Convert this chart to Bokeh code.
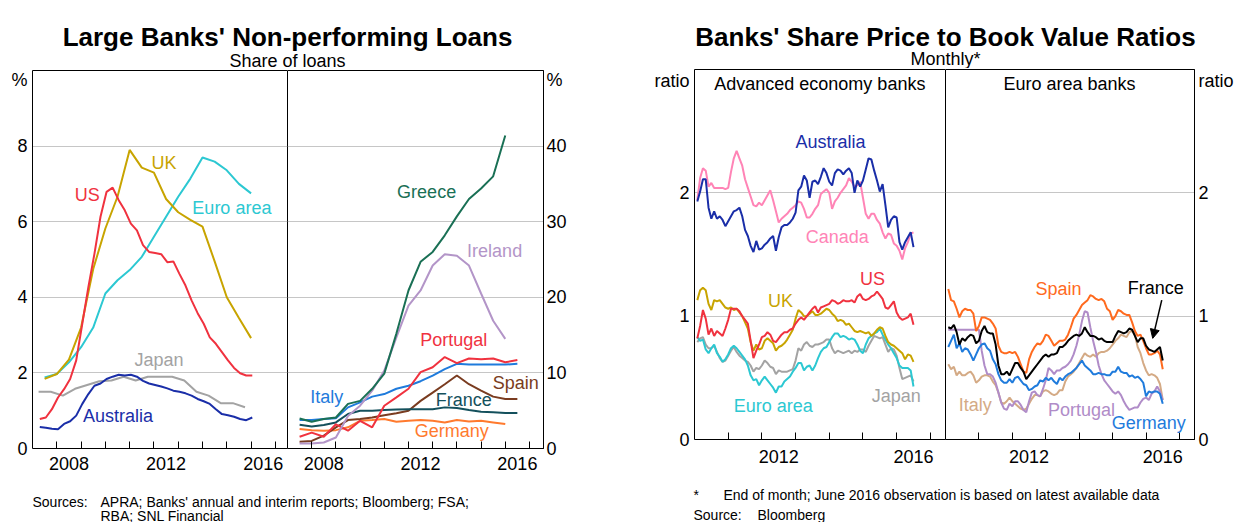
import numpy as np
from bokeh.plotting import figure
from bokeh.layouts import column, row
from bokeh.models import (Range1d, FixedTicker, Label, Arrow, NormalHead, CustomJSTickFormatter,
                          LinearAxis)
from bokeh.embed import file_html
from bokeh.resources import INLINE

FONT = "Liberation Sans"
FS = "18px"

# ---------------- Left chart: Large banks' non-performing loans (% of loans) ----------------
q_years = [round(2007.3 + 0.25 * k, 2) for k in range(36)]      # quarterly
h_years = [2007.5 + 0.5 * k for k in range(18)]                   # half-yearly
jp_years = [2007.25 + 0.5 * k for k in range(18)]                 # Japan fiscal half-years
eu_years = [2007.5 + 0.5 * k for k in range(19)]                  # euro countries

npl_us = [0.78, 0.82, 1.04, 1.35, 1.57, 1.84, 2.33, 3.3, 4.27, 5.15, 6.13, 6.79, 6.9, 6.57, 6.3, 5.95,
          5.77, 5.38, 5.2, 5.17, 5.14, 4.93, 4.95, 4.62, 4.31, 3.92, 3.58, 3.3, 2.94, 2.77, 2.55, 2.33,
          2.13, 1.99, 1.93, 1.93]
npl_australia = [0.57, 0.55, 0.52, 0.51, 0.65, 0.72, 0.87, 1.18, 1.44, 1.66, 1.72, 1.84, 1.9, 1.95, 1.93,
                 1.95, 1.9, 1.79, 1.72, 1.68, 1.64, 1.59, 1.53, 1.5, 1.46, 1.4, 1.31, 1.25, 1.18, 1.04,
                 0.91, 0.88, 0.84, 0.78, 0.75, 0.82]
npl_uk = [1.84, 1.97, 2.35, 3.2, 4.75, 5.82, 6.66, 7.9, 7.43, 7.3, 6.6, 6.25, 6.05, 5.87, 4.95, 4.0, 3.45, 2.92]
npl_euro = [1.88, 1.97, 2.28, 2.68, 3.2, 4.1, 4.45, 4.72, 5.07, 5.6, 6.13, 6.66, 7.14, 7.7, 7.59, 7.36, 7.0, 6.75]
npl_japan = [1.5, 1.5, 1.4, 1.58, 1.68, 1.78, 1.8, 1.9, 1.8, 1.9, 1.9, 1.9, 1.8, 1.5, 1.4, 1.2, 1.2, 1.09]

npl_greece = [3.98, 3.54, 3.9, 4.1, 5.9, 6.3, 7.9, 9.9, 15.2, 20.9, 24.7, 26.0, 28.2, 30.7, 33.0, 34.4, 36.0, 41.4]
npl_ireland = [0.66, 0.66, 0.8, 1.46, 4.3, 5.66, 7.65, 10.3, 14.7, 18.9, 20.9, 24.2, 25.7, 25.5, 24.2, 20.5, 16.9, 14.5]
npl_portugal = [1.55, 2.1, 1.55, 3.2, 2.35, 3.67, 2.8, 5.66, 6.77, 7.9, 10.1, 10.75, 12.1, 11.3, 11.9, 11.8, 11.9, 11.4, 11.7]
npl_italy = [3.76, 3.76, 3.9, 4.0, 5.44, 6.1, 6.86, 7.2, 7.9, 8.3, 8.9, 9.65, 10.5, 11.2, 11.1, 11.1, 11.1, 11.1, 11.2]
npl_france = [3.14, 2.9, 3.1, 3.45, 4.56, 5.0, 5.0, 5.1, 5.15, 5.2, 5.2, 5.2, 5.44, 5.35, 5.1, 4.87, 4.8, 4.7, 4.7]
npl_spain = [0.9, 1.0, 1.7, 2.8, 3.76, 3.9, 4.1, 4.4, 4.65, 5.0, 6.3, 7.4, 8.5, 9.65, 8.5, 7.65, 6.86, 6.55, 6.55]
npl_germany = [2.57, 2.43, 2.35, 2.43, 2.8, 3.67, 3.76, 3.9, 3.54, 3.67, 3.76, 3.67, 3.45, 3.76, 3.58, 3.67, 3.45, 3.23]

# ---------------- Right chart: price-to-book ratios, monthly Jan 2010 - Jun 2016 ----------------
months = [2010 + (m + 1) / 12 for m in range(78)]

pb_australia = [1.93, 2.01, 2.11, 2.11, 1.88, 1.79, 1.85, 1.79, 1.81, 1.78,
                1.73, 1.77, 1.81, 1.85, 1.86, 1.88, 1.81, 1.70, 1.65, 1.57,
                1.52, 1.61, 1.54, 1.55, 1.58, 1.60, 1.63, 1.65, 1.53, 1.64,
                1.72, 1.74, 1.74, 1.76, 1.79, 1.84, 2.02, 2.05, 2.14, 2.10,
                1.96, 2.09, 2.10, 2.07, 2.13, 2.20, 2.16, 2.09, 2.06, 2.16,
                2.19, 2.18, 2.15, 2.18, 2.20, 2.16, 2.00, 2.10, 2.05, 2.10,
                2.19, 2.28, 2.27, 2.18, 2.10, 2.01, 2.07, 1.90, 1.72, 1.78,
                1.81, 1.80, 1.60, 1.54, 1.60, 1.64, 1.68, 1.56]
pb_canada = [1.94, 2.12, 2.20, 2.18, 2.05, 2.08, 2.04, 2.04, 2.04, 2.04,
             2.03, 2.04, 2.17, 2.28, 2.34, 2.28, 2.22, 2.11, 2.04, 1.97,
             1.90, 1.89, 1.92, 1.90, 1.94, 1.98, 2.02, 1.94, 1.85, 1.76,
             1.79, 1.81, 1.83, 1.86, 1.88, 1.90, 1.93, 1.92, 1.87, 1.80,
             1.80, 1.83, 1.87, 1.90, 1.99, 2.01, 2.03, 2.00, 1.87, 1.93,
             1.96, 2.00, 2.03, 2.06, 2.12, 2.09, 2.05, 2.06, 2.09, 1.96,
             1.83, 1.79, 1.83, 1.83, 1.78, 1.75, 1.68, 1.63, 1.67, 1.66,
             1.59, 1.57, 1.53, 1.46, 1.55, 1.60, 1.67, 1.68]
pb_us = [0.82, 0.92, 1.05, 0.98, 0.85, 0.90, 0.84, 0.88, 0.86, 0.84,
         0.90, 0.97, 1.06, 1.06, 1.06, 1.04, 1.00, 0.97, 0.94, 0.80,
         0.66, 0.72, 0.77, 0.83, 0.84, 0.87, 0.85, 0.80, 0.79, 0.82,
         0.85, 0.87, 0.87, 0.89, 0.90, 0.94, 0.97, 0.99, 0.97, 1.00,
         1.03, 1.06, 1.08, 1.03, 1.07, 1.08, 1.09, 1.10, 1.13, 1.12,
         1.10, 1.11, 1.13, 1.12, 1.12, 1.13, 1.11, 1.16, 1.18, 1.14,
         1.13, 1.14, 1.16, 1.17, 1.20, 1.17, 1.14, 1.07, 1.06, 1.09,
         1.12, 1.03, 0.99, 0.97, 0.98, 0.99, 1.02, 0.93]
pb_uk = [1.13, 1.21, 1.23, 1.21, 1.10, 1.05, 1.13, 1.12, 1.13, 1.10,
         1.07, 1.06, 1.07, 1.05, 1.06, 1.03, 1.00, 0.95, 0.90, 0.79,
         0.72, 0.77, 0.73, 0.74, 0.80, 0.82, 0.80, 0.78, 0.72, 0.75,
         0.76, 0.78, 0.81, 0.85, 0.89, 0.98, 1.05, 1.03, 1.00, 1.00,
         1.02, 1.04, 1.01, 1.01, 1.02, 1.04, 1.06, 1.05, 1.02, 1.00,
         0.96, 0.97, 0.96, 0.93, 0.94, 0.91, 0.88, 0.87, 0.88, 0.87,
         0.86, 0.87, 0.84, 0.86, 0.89, 0.91, 0.90, 0.84, 0.79, 0.77,
         0.76, 0.74, 0.72, 0.70, 0.65, 0.69, 0.68, 0.63]
pb_euro = [0.83, 0.80, 0.81, 0.73, 0.70, 0.74, 0.77, 0.70, 0.67, 0.63,
           0.65, 0.69, 0.74, 0.76, 0.74, 0.71, 0.68, 0.65, 0.60, 0.52,
           0.48, 0.49, 0.44, 0.48, 0.51, 0.48, 0.45, 0.42, 0.38, 0.43,
           0.43, 0.47, 0.49, 0.51, 0.55, 0.58, 0.62, 0.62, 0.56, 0.59,
           0.60, 0.56, 0.60, 0.66, 0.71, 0.74, 0.75, 0.79, 0.83, 0.86,
           0.86, 0.83, 0.84, 0.83, 0.81, 0.82, 0.81, 0.77, 0.72, 0.70,
           0.77, 0.82, 0.84, 0.86, 0.87, 0.90, 0.85, 0.81, 0.77, 0.74,
           0.70, 0.66, 0.60, 0.58, 0.58, 0.58, 0.56, 0.43]
pb_japan = [0.79, 0.82, 0.83, 0.77, 0.74, 0.74, 0.76, 0.71, 0.66, 0.63,
            0.64, 0.68, 0.72, 0.75, 0.71, 0.68, 0.66, 0.64, 0.63, 0.60,
            0.55, 0.58, 0.57, 0.60, 0.64, 0.62, 0.59, 0.58, 0.53, 0.56,
            0.55, 0.55, 0.55, 0.56, 0.57, 0.64, 0.74, 0.72, 0.77, 0.79,
            0.76, 0.75, 0.77, 0.77, 0.78, 0.79, 0.81, 0.81, 0.74, 0.70,
            0.72, 0.71, 0.70, 0.71, 0.72, 0.70, 0.72, 0.71, 0.73, 0.73,
            0.71, 0.76, 0.80, 0.84, 0.83, 0.82, 0.83, 0.77, 0.71, 0.74,
            0.73, 0.68, 0.58, 0.49, 0.50, 0.51, 0.52, 0.47]

pb_spain = [1.22, 1.13, 1.12, 1.06, 0.99, 1.04, 1.06, 1.05, 1.05, 1.02,
            0.88, 0.92, 0.99, 0.99, 0.98, 0.97, 0.94, 0.90, 0.76, 0.71,
            0.70, 0.70, 0.71, 0.70, 0.71, 0.67, 0.61, 0.55, 0.54, 0.65,
            0.71, 0.75, 0.78, 0.77, 0.80, 0.85, 0.84, 0.80, 0.76, 0.78,
            0.80, 0.80, 0.81, 0.85, 0.91, 0.98, 1.01, 1.05, 1.09, 1.11,
            1.13, 1.17, 1.16, 1.14, 1.13, 1.14, 1.12, 1.06, 1.04, 0.97,
            1.00, 1.05, 1.04, 1.02, 1.01, 1.01, 0.95, 0.88, 0.84, 0.85,
            0.80, 0.74, 0.69, 0.69, 0.70, 0.72, 0.69, 0.57]
pb_france = [0.91, 0.90, 0.93, 0.87, 0.77, 0.82, 0.80, 0.83, 0.85, 0.84,
             0.78, 0.80, 0.88, 0.92, 0.87, 0.86, 0.86, 0.77, 0.60, 0.53,
             0.53, 0.55, 0.52, 0.57, 0.62, 0.62, 0.58, 0.55, 0.49, 0.52,
             0.55, 0.58, 0.61, 0.64, 0.67, 0.69, 0.67, 0.69, 0.69, 0.70,
             0.75, 0.75, 0.77, 0.80, 0.82, 0.84, 0.85, 0.84, 0.86, 0.91,
             0.87, 0.84, 0.84, 0.83, 0.81, 0.82, 0.80, 0.79, 0.79, 0.79,
             0.84, 0.88, 0.87, 0.86, 0.87, 0.90, 0.89, 0.84, 0.79, 0.82,
             0.82, 0.76, 0.73, 0.72, 0.71, 0.73, 0.75, 0.64]
pb_italy = [0.61, 0.57, 0.59, 0.52, 0.55, 0.52, 0.52, 0.54, 0.55, 0.52,
            0.46, 0.48, 0.51, 0.52, 0.52, 0.51, 0.47, 0.44, 0.38, 0.30,
            0.29, 0.31, 0.34, 0.31, 0.29, 0.27, 0.25, 0.24, 0.25, 0.29,
            0.33, 0.36, 0.36, 0.35, 0.39, 0.40, 0.39, 0.37, 0.36, 0.37,
            0.40, 0.40, 0.47, 0.51, 0.53, 0.55, 0.58, 0.62, 0.66, 0.70,
            0.68, 0.67, 0.69, 0.67, 0.70, 0.71, 0.71, 0.72, 0.74, 0.77,
            0.80, 0.82, 0.85, 0.84, 0.83, 0.87, 0.88, 0.85, 0.75, 0.70,
            0.62, 0.56, 0.52, 0.53, 0.52, 0.50, 0.45, 0.32]
pb_portugal = [0.89, 0.89, 0.89, 0.89, 0.89, 0.89, 0.89, 0.89, 0.89, 0.89,
               0.89, 0.89, 0.72, 0.60, 0.53, 0.53, 0.51, 0.46, 0.38, 0.30,
               0.25, 0.24, 0.29, 0.27, 0.31, 0.31, 0.28, 0.24, 0.22, 0.31,
               0.38, 0.39, 0.36, 0.35, 0.41, 0.48, 0.58, 0.56, 0.53, 0.56,
               0.56, 0.58, 0.59, 0.61, 0.64, 0.69, 0.76, 0.85, 0.96, 1.04,
               1.03, 0.91, 0.80, 0.71, 0.60, 0.53, 0.48, 0.45, 0.42, 0.39,
               0.37, 0.39, 0.36, 0.31, 0.27, 0.24, 0.25, 0.26, 0.26, 0.30,
               0.33, 0.34, 0.32, 0.37, 0.39, 0.43, 0.39, 0.32]
pb_germany = [0.75, 0.80, 0.85, 0.74, 0.78, 0.71, 0.74, 0.73, 0.69, 0.64,
              0.69, 0.74, 0.77, 0.78, 0.74, 0.72, 0.65, 0.61, 0.53, 0.48,
              0.46, 0.46, 0.49, 0.46, 0.50, 0.51, 0.48, 0.45, 0.44, 0.40,
              0.41, 0.43, 0.44, 0.48, 0.47, 0.50, 0.48, 0.50, 0.47, 0.45,
              0.50, 0.48, 0.51, 0.53, 0.54, 0.56, 0.58, 0.61, 0.64, 0.60,
              0.58, 0.56, 0.53, 0.53, 0.54, 0.53, 0.53, 0.52, 0.52, 0.55,
              0.55, 0.59, 0.55, 0.54, 0.54, 0.51, 0.52, 0.50, 0.51, 0.49,
              0.46, 0.35, 0.39, 0.38, 0.39, 0.39, 0.37, 0.29]

# ---------------- colours ----------------
C = dict(us="#f0323f", uk="#c8a400", euro="#2cc8d2", japan="#a3a3a3", australia="#1a2ea8",
         greece="#1a7055", ireland="#b395c8", portugal="#f0323f", italy="#1f7bdc",
         france="#14505c", spain_npl="#7a3c20", germany_npl="#ff7a2e",
         canada="#ff84b6", spain="#ff6a1e", france_pb="#000000", italy_pb="#d4aa85",
         portugal_pb="#b08cc8", germany_pb="#1f7bdc")

PANEL_BOTTOM = 478


def panel(width, height, xr, yr, borders, y_side, yticks, grid_ticks, minor_years, label_years,
          y_standoff, x_standoff, unit_code, outline):
    p = figure(width=width, height=height, x_range=Range1d(*xr), y_range=Range1d(*yr),
               output_backend="svg", toolbar_location=None, y_axis_location=y_side,
               min_border_left=borders[0], min_border_right=borders[1],
               min_border_top=borders[2], min_border_bottom=borders[3])
    if "frame_align" in p.properties():
        p.frame_align = False
    xa = p.below[0]
    ya = p.left[0] if y_side == "left" else p.right[0]
    if outline:
        p.outline_line_color = "black"
        p.outline_line_width = 1
    else:
        # no outline on the divider side; top border drawn as a bare axis line
        p.outline_line_color = None
        top_ax = LinearAxis(ticker=FixedTicker(ticks=[]), axis_line_color="black",
                            major_tick_line_color=None, minor_tick_line_color=None,
                            major_tick_out=0, minor_tick_out=0, major_tick_in=0, minor_tick_in=0,
                            major_label_standoff=0)
        p.add_layout(top_ax, "above")
    p.xgrid.visible = False
    p.ygrid.ticker = FixedTicker(ticks=grid_ticks)
    p.ygrid.grid_line_color = "#c6c6c6"
    p.ygrid.grid_line_width = 1

    ya.ticker = FixedTicker(ticks=yticks)
    ya.formatter = CustomJSTickFormatter(code=unit_code)
    ya.major_tick_line_color = None
    ya.minor_tick_line_color = None
    ya.major_tick_out = 0
    ya.major_tick_in = 0
    ya.minor_tick_out = 0
    ya.minor_tick_in = 0
    ya.axis_line_color = "black"
    ya.major_label_text_font = FONT
    ya.major_label_text_font_size = FS
    ya.major_label_text_color = "black"
    ya.major_label_standoff = y_standoff

    xa.ticker = FixedTicker(ticks=[y + 0.5 for y in label_years], minor_ticks=minor_years)
    xa.formatter = CustomJSTickFormatter(code="return Math.floor(tick).toFixed(0);")
    xa.major_tick_line_color = None
    xa.major_tick_out = 0
    xa.major_tick_in = 0
    xa.minor_tick_in = 7
    xa.minor_tick_out = 0
    xa.minor_tick_line_color = "black"
    xa.axis_line_color = "black"
    xa.major_label_text_font = FONT
    xa.major_label_text_font_size = FS
    xa.major_label_text_color = "black"
    xa.major_label_standoff = x_standoff
    return p


def lab(p, text, x, y, color="black", align="center", size=FS, bold=False, baseline="middle"):
    p.add_layout(Label(x=x, y=y, text=text, text_color=color, text_font=FONT, text_font_size=size,
                       text_align=align, text_baseline=baseline,
                       text_font_style="bold" if bold else "normal"))


PCT_L = "return tick > 9 ? '%' : tick.toFixed(0);"
PCT_R = "return tick > 45 ? '%' : tick.toFixed(0);"
RATIO = "return tick > 2.5 ? 'ratio' : tick.toFixed(0);"

TOP_L = 69   # left chart panels begin here (frame top at 70)
TOP_R = 68   # right chart panels begin here (frame top at 69)

# ---------- Left chart panels ----------
fL1 = panel(287, PANEL_BOTTOM - TOP_L, (2007.0, 2017.5), (0, 10), (32, 0, 1, 30), "left",
            [0, 2, 4, 6, 8, 9.79], [2, 4, 6, 8],
            list(range(2008, 2018)), [2008, 2012, 2016], 5, 8, PCT_L, False)
for yrs, vals, col in [(jp_years, npl_japan, C["japan"]), (q_years, npl_australia, C["australia"]),
                       (h_years, npl_euro, C["euro"]), (h_years, npl_uk, C["uk"]),
                       (q_years, npl_us, C["us"])]:
    fL1.line(yrs, vals, line_color=col, line_width=2)
lab(fL1, "UK", 2012.41, 7.55, C["uk"])
lab(fL1, "US", 2009.25, 6.70, C["us"])
lab(fL1, "Euro area", 2015.21, 6.36, C["euro"])
lab(fL1, "Japan", 2012.21, 2.33, C["japan"])
lab(fL1, "Australia", 2010.52, 0.87, C["australia"])

fL2 = panel(325, PANEL_BOTTOM - TOP_L, (2007.0, 2017.58), (0, 50), (0, 69, 1, 30), "right",
            [0, 10, 20, 30, 40, 48.95], [10, 20, 30, 40],
            list(range(2008, 2018)), [2008, 2012, 2016], 3, 8, PCT_R, True)
for yrs, vals, col in [(h_years, npl_germany, C["germany_npl"]), (eu_years, npl_spain, C["spain_npl"]),
                       (eu_years, npl_france, C["france"]), (eu_years, npl_italy, C["italy"]),
                       (eu_years, npl_portugal, C["portugal"]), (h_years, npl_ireland, C["ireland"]),
                       (h_years, npl_greece, C["greece"])]:
    fL2.line(yrs, vals, line_color=col, line_width=2)
lab(fL2, "Greece", 2012.75, 33.9, C["greece"])
lab(fL2, "Ireland", 2015.56, 26.1, C["ireland"])
lab(fL2, "Portugal", 2013.87, 14.3, C["portugal"])
lab(fL2, "Italy", 2008.62, 6.75, C["italy"])
lab(fL2, "France", 2014.28, 6.36, C["france"])
lab(fL2, "Spain", 2016.43, 8.6, C["spain_npl"])
lab(fL2, "Germany", 2013.79, 2.38, C["germany_npl"])

# ---------- Right chart panels ----------
fR1 = panel(333, PANEL_BOTTOM - TOP_R, (2010.0, 2017.45), (0, 3), (82, 0, 1, 39), "left",
            [0, 1, 2, 2.91], [1, 2],
            list(range(2011, 2018)), [2012, 2016], 5, 10, RATIO, False)
for vals, col in [(pb_canada, C["canada"]), (pb_australia, C["australia"]), (pb_japan, C["japan"]),
                  (pb_euro, C["euro"]), (pb_uk, C["uk"]), (pb_us, C["us"])]:
    fR1.line(months, vals, line_color=col, line_width=2)
lab(fR1, "Advanced economy banks", 2013.72, 2.88)
lab(fR1, "Australia", 2014.04, 2.41, C["australia"])
lab(fR1, "Canada", 2014.24, 1.64, C["canada"])
lab(fR1, "US", 2015.28, 1.30, C["us"])
lab(fR1, "UK", 2012.55, 1.12, C["uk"])
lab(fR1, "Euro area", 2012.34, 0.27, C["euro"])
lab(fR1, "Japan", 2015.99, 0.35, C["japan"])

fR2 = panel(291, PANEL_BOTTOM - TOP_R, (2010.0, 2017.45), (0, 3), (0, 40, 1, 39), "right",
            [0, 1, 2, 2.91], [1, 2],
            list(range(2011, 2018)), [2012, 2016], 4, 10, RATIO, True)
for vals, col in [(pb_italy, C["italy_pb"]), (pb_portugal, C["portugal_pb"]), (pb_germany, C["germany_pb"]),
                  (pb_spain, C["spain"]), (pb_france, C["france_pb"])]:
    fR2.line(months, vals, line_color=col, line_width=2)
lab(fR2, "Euro area banks", 2013.71, 2.88)
lab(fR2, "Spain", 2013.38, 1.22, C["spain"])
lab(fR2, "France", 2016.29, 1.23, "black")
lab(fR2, "Italy", 2010.89, 0.28, C["italy_pb"])
lab(fR2, "Portugal", 2014.07, 0.24, C["portugal_pb"])
lab(fR2, "Germany", 2016.08, 0.13, C["germany_pb"])
fR2.add_layout(Arrow(end=NormalHead(size=9, fill_color="black", line_color="black"),
                     x_start=2016.47, y_start=1.13, x_end=2016.2, y_end=0.82,
                     line_color="black", line_width=1.5))


# ---------- Title strips and footnote strips ----------
def strip(width, x0, y0, y1):
    s = figure(width=width, height=y1 - y0, x_range=Range1d(x0, x0 + width), y_range=Range1d(y1, y0),
               x_axis_type=None, y_axis_type=None, output_backend="svg", toolbar_location=None,
               min_border=0)
    s.outline_line_color = None
    if "frame_align" in s.properties():
        s.frame_align = False
    return s


topL = strip(612, 0, 0, TOP_L)
lab(topL, "Large Banks' Non-performing Loans", 287, 36, bold=True, size="26px", baseline="alphabetic")
lab(topL, "Share of loans", 287, 60, baseline="alphabetic")
topR = strip(624, 612, 0, TOP_R)
lab(topR, "Banks' Share Price to Book Value Ratios", 945, 36, bold=True, size="26px", baseline="alphabetic")
lab(topR, "Monthly*", 945, 58, baseline="alphabetic")

FN = "14px"
botL = strip(612, 0, PANEL_BOTTOM, 522)
lab(botL, "Sources:", 32, 501, align="left", size=FN, baseline="alphabetic")
lab(botL, "APRA; Banks' annual and interim reports; Bloomberg; FSA;", 100, 501, align="left", size=FN, baseline="alphabetic")
lab(botL, "RBA; SNL Financial", 100, 515, align="left", size=FN, baseline="alphabetic")
botR = strip(624, 612, PANEL_BOTTOM, 522)
lab(botR, "*", 693, 494, align="left", size=FN, baseline="alphabetic")
lab(botR, "End of month; June 2016 observation is based on latest available data", 723, 494, align="left", size=FN, baseline="alphabetic")
lab(botR, "Source:", 693, 514, align="left", size=FN, baseline="alphabetic")
lab(botR, "Bloomberg", 757, 514, align="left", size=FN, baseline="alphabetic")

left_chart = column(topL, row(fL1, fL2, spacing=0), botL, spacing=0)
right_chart = column(topR, row(fR1, fR2, spacing=0), botR, spacing=0)
layout = row(left_chart, right_chart, spacing=0)

with open("out.html", "w") as f:
    f.write(file_html(layout, INLINE))
